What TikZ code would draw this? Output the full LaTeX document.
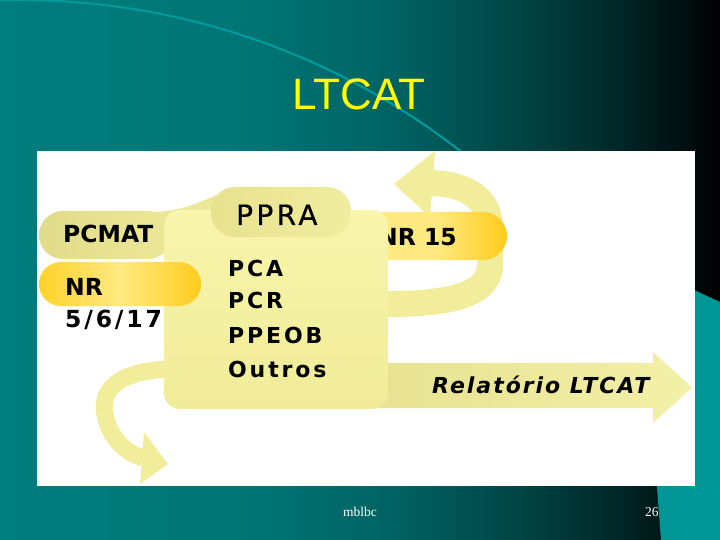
\documentclass[tikz,border=0pt]{standalone}
\usepackage{fontspec}
\setmainfont{DejaVu Sans}
\newfontfamily\titlefont{Liberation Sans}
\newfontfamily\footfont{Liberation Serif}
\newfontfamily\pprafont[LetterSpace=12,FakeBold=0.6]{DejaVu Sans}
\newfontfamily\boldfont{DejaVu Sans Bold}
\newfontfamily\listfont[LetterSpace=13]{DejaVu Sans Bold}
\newfontfamily\numfont[LetterSpace=12]{DejaVu Sans Bold}
\newfontfamily\relfont[LetterSpace=9]{DejaVu Sans Bold Oblique}
\definecolor{bgA}{RGB}{0,125,125}
\definecolor{bgB}{RGB}{0,117,117}
\definecolor{bgC}{RGB}{0,97,97}
\definecolor{bgD}{RGB}{0,68,68}
\definecolor{bgE}{RGB}{0,38,38}
\definecolor{bgF}{RGB}{0,12,12}
\definecolor{arccol}{RGB}{0,155,155}
\definecolor{tealbox}{RGB}{0,150,150}
\definecolor{titleyellow}{RGB}{255,255,0}
\definecolor{ribbon}{RGB}{241,237,155}
\definecolor{arrowL}{RGB}{230,226,145}
\definecolor{arrowR}{RGB}{243,240,168}
\definecolor{boxtop}{RGB}{248,245,172}
\definecolor{boxbot}{RGB}{240,236,152}
\definecolor{ppraL}{RGB}{230,226,142}
\definecolor{ppraR}{RGB}{241,237,160}
\definecolor{pcmatL}{RGB}{224,220,140}
\definecolor{pcmatR}{RGB}{236,232,152}
\definecolor{goldL}{RGB}{255,210,42}
\definecolor{goldM}{RGB}{255,234,130}
\definecolor{goldR}{RGB}{255,204,28}
\tikzset{
  txt/.style={inner sep=0pt, anchor=base west, text=black},
  pill/.style={inner sep=0pt, rounded corners=#1},
  pill/.default=22pt
}
\begin{document}
\begin{tikzpicture}[x=1pt,y=-1pt]
\useasboundingbox (0,0) rectangle (720,540);
\clip (0,0) rectangle (720,540);
% background gradient
\shade[left color=bgA, right color=bgB] (0,0) rectangle (250.5,540);
\shade[left color=bgB, right color=bgC] (250,0) rectangle (400.5,540);
\shade[left color=bgC, right color=bgD] (400,0) rectangle (520.5,540);
\shade[left color=bgD, right color=bgE] (520,0) rectangle (620.5,540);
\shade[left color=bgE, right color=bgF] (620,0) rectangle (690.5,540);
\shade[left color=bgF, right color=black] (690,0) rectangle (720,540);
% decorative arc
\draw[arccol, line width=2pt] (19,720) circle[radius=720];
% teal block at right
\fill[tealbox] (640,265) -- (720,302) -- (720,540) -- (661,540) -- cycle;
% title
\node[inner sep=0pt, anchor=base west, text=titleyellow, font=\titlefont\fontsize{44}{44}\selectfont] (title) at (292,110) {LTCAT};
% white panel
\fill[white] (37,151) rectangle (695,486);
% big arrow Relatorio LTCAT
\shade[left color=arrowL, right color=arrowR] (360,363) -- (653,363) -- (653,352) -- (692,387.5) -- (653,423) -- (653,408) -- (360,408) -- cycle;
% top-right curling ribbon
\draw[ribbon, line width=26pt] (375,304) .. controls (440,305) and (490,298) .. (490,265) -- (490,228) .. controls (490,196) and (462,183) .. (428,183);
\fill[ribbon] (435,151) -- (394,184) -- (430,217) -- cycle;
% lower-left curling ribbon
\draw[ribbon, line width=17pt] (175,369) .. controls (140,369) and (110,378) .. (105,400) .. controls (101,420) and (115,450) .. (143,458);
\fill[ribbon] (144,432) -- (168,464) -- (140,484) -- cycle;
% PCMAT pill and its band
\fill[pcmatR] (150,212) .. controls (175,212) and (195,205) .. (216,195) -- (216,245) -- (150,245) -- cycle;
\node[pill=24pt, left color=pcmatL, right color=pcmatR, minimum width=133pt, minimum height=48pt] (pcmatpill) at (105.5,235) {};
% NR 15 pill and its text (partly behind the central box)
\node[pill=24pt, left color=goldM, right color=goldR, middle color=goldM, minimum width=147pt, minimum height=48pt] (nr15pill) at (433.5,236) {};
\node[txt, anchor=base east, font=\boldfont\fontsize{23.5}{24}\selectfont] (tnr15) at (457,245) {NR 15};
% central box
\node[pill=16pt, top color=boxtop, bottom color=boxbot, minimum width=224pt, minimum height=199pt] (mainbox) at (276,309.5) {};
% PPRA pill
\node[pill=24pt, left color=ppraL, right color=ppraR, minimum width=140pt, minimum height=50pt] (pprapill) at (281,212) {};
% NR pill
\node[pill=22pt, left color=goldL, right color=goldR, middle color=goldM, minimum width=162pt, minimum height=44pt] (nrpill) at (120,284) {};
% texts
\node[txt, font=\boldfont\fontsize{23.5}{24}\selectfont] (tpcmat) at (63,243) {PCMAT};
\node[txt, font=\boldfont\fontsize{23.5}{24}\selectfont] (tnr) at (65,295) {NR};
\node[txt, font=\numfont\fontsize{23.5}{24}\selectfont] (tnum) at (65,327) {5/6/17};
\node[txt, font=\pprafont\fontsize{28}{28}\selectfont] (tppra) at (236,225) {PPRA};
\node[txt, font=\listfont\fontsize{22}{22}\selectfont] (tpca) at (228,276) {PCA};
\node[txt, font=\listfont\fontsize{22}{22}\selectfont] (tpcr) at (228,308) {PCR};
\node[txt, font=\listfont\fontsize{22}{22}\selectfont] (tppeob) at (228,343) {PPEOB};
\node[txt, font=\listfont\fontsize{22}{22}\selectfont] (toutros) at (228,377) {Outros};
\node[txt, font=\relfont\fontsize{22}{22}\selectfont] (trel) at (432,393) {Relatório LTCAT};
% footer
\node[inner sep=0pt, anchor=base west, text=white, font=\footfont\fontsize{13.5}{14}\selectfont] (foot) at (343,516) {mblbc};
\node[inner sep=0pt, anchor=base west, text=white, font=\footfont\fontsize{13.5}{14}\selectfont] (pagenum) at (645,516) {26};
\end{tikzpicture}
\end{document}
